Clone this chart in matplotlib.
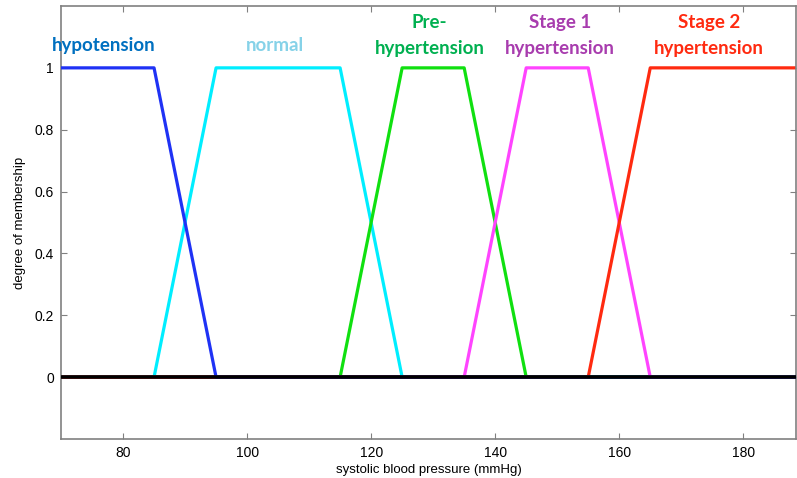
import matplotlib
matplotlib.use("Agg")
import matplotlib.pyplot as plt

# Data
x_hypo = [70, 85, 95, 190]
y_hypo = [1, 1, 0, 0]
x_norm = [70, 85, 95, 115, 125, 190]
y_norm = [0, 0, 1, 1, 0, 0]
x_pre = [70, 115, 125, 135, 145, 190]
y_pre = [0, 0, 1, 1, 0, 0]
x_st1 = [70, 135, 145, 155, 165, 190]
y_st1 = [0, 0, 1, 1, 0, 0]
x_st2 = [70, 155, 165, 190]
y_st2 = [0, 0, 1, 1]
x_ticks = [80, 100, 120, 140, 160, 180]
y_ticks = [0, 0.2, 0.4, 0.6, 0.8, 1]
y_ticklabels = ["0", "0.2", "0.4", "0.6", "0.8", "1"]

plt.rcParams['font.family'] = ['Liberation Sans', 'DejaVu Sans']

fig = plt.figure(figsize=(7.97, 4.78), dpi=100)
ax = fig.add_axes([61/797, 1-439/478, 735/797, 433/478])

lw = 2.3
ax.plot([70, 190], [0, 0], color='black', lw=2.6, zorder=1)
ax.plot(x_hypo, y_hypo, color='#1f32f5', lw=lw, zorder=3)
ax.plot(x_norm, y_norm, color='#00eeff', lw=lw, zorder=2)
ax.plot(x_pre, y_pre, color='#10e010', lw=lw, zorder=2)
ax.plot(x_st1, y_st1, color='#ff44ff', lw=lw, zorder=2)
ax.plot(x_st2, y_st2, color='#ff2a10', lw=lw, zorder=2)
# redraw the zero line on top like reference
ax.plot([70, 190], [0, 0], color='black', lw=2.6, zorder=4)

ax.set_xlim(70, 188.5)
ax.set_ylim(-0.2, 1.2)
ax.set_xticks(x_ticks)
ax.set_yticks(y_ticks)
ax.set_yticklabels(y_ticklabels)
ax.tick_params(direction='in', top=True, right=True, length=4, color='#808080',
               labelsize=10, pad=5)
for s in ax.spines.values():
    s.set_color('#808080')
    s.set_linewidth(1.2)

ax.set_xlabel('systolic blood pressure (mmHg)', fontsize=9.5, labelpad=3)
ax.set_ylabel('degree of membership', fontsize=9.5, labelpad=6)

tf = dict(family=['Lato', 'DejaVu Sans'], fontsize=13.5, fontweight='bold', ha='center', va='center')
ax.text(76.9, 1.072, 'hypotension', color='#0070c0', **tf)
ax.text(104.5, 1.072, 'normal', color='#86d2e8', **tf)
ax.text(129.4, 1.147, 'Pre-', color='#00b050', **tf)
ax.text(129.4, 1.0625, 'hypertension', color='#00b050', **tf)
ax.text(150.4, 1.147, 'Stage 1', color='#a83cae', **tf)
ax.text(150.4, 1.0625, 'hypertension', color='#a83cae', **tf)
ax.text(174.5, 1.147, 'Stage 2', color='#ff2a10', **tf)
ax.text(174.5, 1.0625, 'hypertension', color='#ff2a10', **tf)

fig.savefig('out.png', dpi=100)
